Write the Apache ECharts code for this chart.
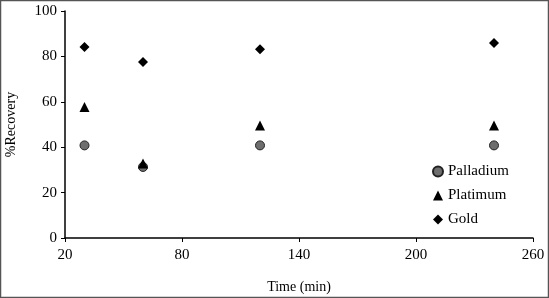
<!DOCTYPE html>
<html>
<head>
<meta charset="utf-8">
<script src="https://cdn.jsdelivr.net/npm/echarts@6/dist/echarts.min.js"></script>
<style>
  html, body { margin: 0; padding: 0; background: #fff; }
  #chart { width: 549px; height: 298px; }
</style>
</head>
<body>
<div id="chart"></div>
<script>
// time points (min)
var times = [30, 60, 120, 240];
var palladium = [40.8, 31.3, 40.8, 40.8];
var platinum = [57.7, 32.8, 49.6, 49.6];
var gold = [84.1, 77.5, 83.1, 85.9];

function pairs(ys) {
    return times.map(function (t, i) { return [t, ys[i]]; });
}

var chart = echarts.init(document.getElementById('chart'));
var font = 'Liberation Serif';

var option = {
    animation: false,
    backgroundColor: '#fff',
    textStyle: { fontFamily: font },
    graphic: [{
        type: 'rect',
        shape: { x: 0.5, y: 0.5, width: 548, height: 297 },
        style: { fill: 'none', stroke: '#555', lineWidth: 1.5 },
        silent: true
    }],
    grid: { left: 65, right: 16, top: 11, bottom: 60, containLabel: false, outerBoundsMode: 'none' },
    legend: {
        orient: 'vertical',
        left: 427,
        top: 159,
        itemGap: 9,
        itemWidth: 10,
        itemHeight: 10,
        textStyle: { fontFamily: font, fontSize: 15, color: '#000' },
        data: ['Palladium', 'Platimum', 'Gold']
    },
    xAxis: {
        type: 'value',
        min: 20, max: 260, interval: 60,
        name: 'Time (min)',
        nameLocation: 'middle',
        nameGap: 42,
        nameTextStyle: { fontFamily: font, fontSize: 14, color: '#000' },
        axisLine: { onZero: false, lineStyle: { color: '#000', width: 1.5 } },
        axisTick: { inside: false, length: 4, lineStyle: { color: '#000' } },
        axisLabel: { fontFamily: font, fontSize: 15, color: '#000', margin: 10 },
        splitLine: { show: false }
    },
    yAxis: {
        type: 'value',
        min: 0, max: 100, interval: 20,
        name: '%Recovery',
        nameLocation: 'middle',
        nameGap: 47,
        nameTextStyle: { fontFamily: font, fontSize: 14, color: '#000' },
        axisLine: { show: true, lineStyle: { color: '#000', width: 1.5 } },
        axisTick: { show: true, inside: false, length: 4, lineStyle: { color: '#000' } },
        axisLabel: { fontFamily: font, fontSize: 15, color: '#000', margin: 8 },
        splitLine: { show: false }
    },
    series: [{
        name: 'Palladium',
        type: 'scatter',
        symbol: 'circle',
        symbolSize: 9,
        itemStyle: { color: '#6e6e6e', borderColor: '#222', borderWidth: 1, opacity: 1 },
        data: pairs(palladium)
    }, {
        name: 'Platimum',
        type: 'scatter',
        symbol: 'triangle',
        symbolSize: 10,
        itemStyle: { color: '#000', opacity: 1 },
        data: pairs(platinum)
    }, {
        name: 'Gold',
        type: 'scatter',
        symbol: 'diamond',
        symbolSize: 10,
        itemStyle: { color: '#000', opacity: 1 },
        data: pairs(gold)
    }]
};

chart.setOption(option);
</script>
</body>
</html>
